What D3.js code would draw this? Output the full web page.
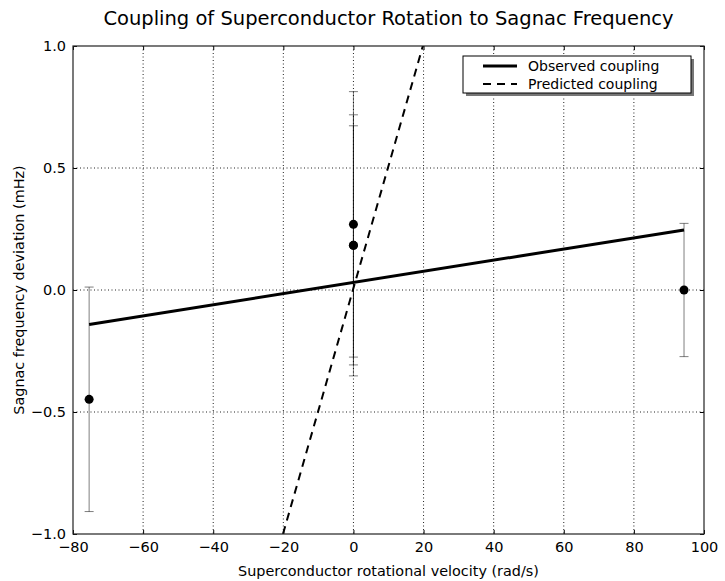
<!DOCTYPE html>
<html>
<head>
<meta charset="utf-8">
<script src="https://cdn.jsdelivr.net/npm/d3@7"></script>
<style>
  body { margin: 0; background: #fff; }
  text { font-family: "DejaVu Sans", sans-serif; fill: #000; }
</style>
</head>
<body>
<div id="chart"></div>
<script>
const title = 'Coupling of Superconductor Rotation to Sagnac Frequency'
const xLabel = 'Superconductor rotational velocity (rad/s)'
const yLabel = 'Sagnac frequency deviation (mHz)'

// measurements: velocity, deviation, error
const velocity = [-75.4, 0, 0, 0, 94.3]
const deviation = [-0.448, 0.269, 0.183, 0.183, 0.0]
const errors = [0.46, 0.544, 0.535, 0.49, 0.273]

// fitted and predicted lines
const observedLine = [[-75.4, -0.141], [94.3, 0.246]]
const predictedLine = [[-20.1, -1.0], [19.8, 1.0]]

const xTicks = [-80, -60, -40, -20, 0, 20, 40, 60, 80, 100]
const yTicks = [-1.0, -0.5, 0.0, 0.5, 1.0]
const legendLabels = ['Observed coupling', 'Predicted coupling']

const W = 725, H = 581
const margin = {top: 46, right: 21, bottom: 47, left: 73}
const width = W - margin.left - margin.right
const height = H - margin.top - margin.bottom

const svg = d3.select('#chart').append('svg')
  .attr('width', W).attr('height', H)

const x = d3.scaleLinear().domain([-80, 100]).range([0, width])
const y = d3.scaleLinear().domain([-1, 1]).range([height, 0])

svg.append('defs').append('clipPath').attr('id', 'clip')
  .append('rect').attr('width', width).attr('height', height)

const g = svg.append('g').attr('transform', `translate(${margin.left},${margin.top})`)

// grid
g.append('g').selectAll('line').data(xTicks.slice(1, -1)).enter().append('line')
  .attr('x1', d => x(d)).attr('x2', d => x(d)).attr('y1', 0).attr('y2', height)
  .attr('stroke', '#222').attr('stroke-width', 1).attr('stroke-dasharray', '1,2.5')
g.append('g').selectAll('line').data(yTicks.slice(1, -1)).enter().append('line')
  .attr('y1', d => y(d)).attr('y2', d => y(d)).attr('x1', 0).attr('x2', width)
  .attr('stroke', '#222').attr('stroke-width', 1).attr('stroke-dasharray', '1,2.5')

const plot = g.append('g').attr('clip-path', 'url(#clip)')
const line = d3.line().x(d => x(d[0])).y(d => y(d[1]))

plot.append('path').datum(observedLine).attr('d', line)
  .attr('fill', 'none').attr('stroke', '#000').attr('stroke-width', 3)
plot.append('path').datum(predictedLine).attr('d', line)
  .attr('fill', 'none').attr('stroke', '#000').attr('stroke-width', 2)
  .attr('stroke-dasharray', '8,6')

// error bars
const pts = velocity.map((v, i) => ({x: v, y: deviation[i], e: errors[i]}))
const eb = g.append('g').attr('stroke', 'rgba(0,0,0,0.5)').attr('stroke-width', 1)
pts.forEach(p => {
  eb.append('line').attr('x1', x(p.x)).attr('x2', x(p.x))
    .attr('y1', y(p.y - p.e)).attr('y2', y(p.y + p.e))
  ;[p.y - p.e, p.y + p.e].forEach(v => {
    eb.append('line').attr('x1', x(p.x) - 4.5).attr('x2', x(p.x) + 4.5)
      .attr('y1', y(v)).attr('y2', y(v))
  })
})
g.append('g').selectAll('circle').data(pts).enter().append('circle')
  .attr('cx', d => x(d.x)).attr('cy', d => y(d.y)).attr('r', 4.5).attr('fill', '#000')

// axes with inward ticks
const axB = g.append('g').attr('transform', `translate(0,${height})`)
  .call(d3.axisBottom(x).tickValues(xTicks).tickSizeInner(-4).tickSizeOuter(0).tickPadding(8).tickFormat(d3.format('d')))
const axT = g.append('g')
  .call(d3.axisTop(x).tickValues(xTicks).tickSizeInner(-4).tickSizeOuter(0).tickFormat(''))
const axL = g.append('g')
  .call(d3.axisLeft(y).tickValues(yTicks).tickSizeInner(-4).tickSizeOuter(0).tickPadding(7).tickFormat(d3.format('.1f')))
const axR = g.append('g').attr('transform', `translate(${width},0)`)
  .call(d3.axisRight(y).tickValues(yTicks).tickSizeInner(-4).tickSizeOuter(0).tickFormat(''))
;[axB, axT, axL, axR].forEach(a => {
  a.select('.domain').remove()
  a.selectAll('line').attr('stroke', '#000')
  a.selectAll('text').attr('font-size', 14.5).attr('font-family', '"DejaVu Sans", sans-serif').attr('fill', '#000')
})

g.append('rect').attr('width', width).attr('height', height)
  .attr('fill', 'none').attr('stroke', '#222').attr('stroke-width', 1.2)

// labels
svg.append('text').attr('x', margin.left + width / 2).attr('y', 25)
  .attr('text-anchor', 'middle').attr('font-size', 19.5).text(title)
svg.append('text').attr('x', margin.left + width / 2).attr('y', 576)
  .attr('text-anchor', 'middle').attr('font-size', 14.4).text(xLabel)
svg.append('text').attr('transform', `translate(24,${margin.top + height / 2}) rotate(-90)`)
  .attr('text-anchor', 'middle').attr('font-size', 14.4).text(yLabel)

// legend
const lg = svg.append('g').attr('transform', 'translate(463,56)')
lg.append('rect').attr('x', 3).attr('y', 3).attr('width', 228).attr('height', 37).attr('fill', '#777')
lg.append('rect').attr('width', 228).attr('height', 37).attr('fill', '#fff').attr('stroke', '#000').attr('stroke-width', 1)
legendLabels.forEach((t, i) => {
  const yy = 10 + i * 18
  lg.append('line').attr('x1', 20).attr('x2', 54).attr('y1', yy).attr('y2', yy)
    .attr('stroke', '#000').attr('stroke-width', i === 0 ? 3 : 2)
    .attr('stroke-dasharray', i === 0 ? null : '8,6')
  lg.append('text').attr('x', 65).attr('y', yy + 5).attr('font-size', 14).text(t)
})
</script>
</body>
</html>
